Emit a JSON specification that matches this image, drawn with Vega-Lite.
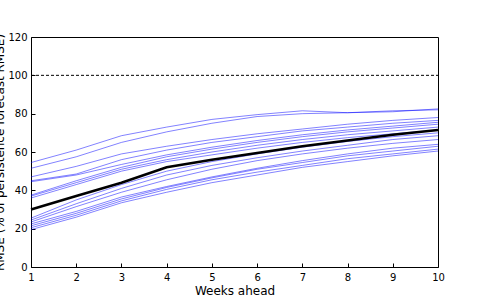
{
  "$schema": "https://vega.github.io/schema/vega-lite/v6.json",
  "width": 407,
  "height": 230,
  "autosize": "none",
  "padding": {"left": 31, "top": 37, "right": 53, "bottom": 39},
  "background": "white",
  "config": {
    "view": {"stroke": "black", "strokeWidth": 1},
    "font": "DejaVu Sans",
    "axis": {
      "grid": false,
      "domain": false,
      "tickColor": "black",
      "tickSize": -4,
      "labelColor": "black",
      "labelFontSize": 10,
      "labelFont": "DejaVu Sans",
      "titleFont": "DejaVu Sans",
      "titleFontSize": 12,
      "titleFontWeight": "normal",
      "titleColor": "black"
    }
  },
  "datasets": {
    "runs": [
      {"series": "L1", "week": 1, "value": 54.5}, {"series": "L1", "week": 2, "value": 61}, {"series": "L1", "week": 3, "value": 68.5}, {"series": "L1", "week": 4, "value": 73}, {"series": "L1", "week": 5, "value": 77}, {"series": "L1", "week": 6, "value": 79.5}, {"series": "L1", "week": 7, "value": 81.5}, {"series": "L1", "week": 8, "value": 80.5}, {"series": "L1", "week": 9, "value": 81}, {"series": "L1", "week": 10, "value": 82.5},
      {"series": "L2", "week": 1, "value": 51.5}, {"series": "L2", "week": 2, "value": 57.5}, {"series": "L2", "week": 3, "value": 65}, {"series": "L2", "week": 4, "value": 70.5}, {"series": "L2", "week": 5, "value": 75}, {"series": "L2", "week": 6, "value": 78.5}, {"series": "L2", "week": 7, "value": 80}, {"series": "L2", "week": 8, "value": 80.5}, {"series": "L2", "week": 9, "value": 81.5}, {"series": "L2", "week": 10, "value": 82},
      {"series": "L3", "week": 1, "value": 47}, {"series": "L3", "week": 2, "value": 52.5}, {"series": "L3", "week": 3, "value": 59}, {"series": "L3", "week": 4, "value": 63}, {"series": "L3", "week": 5, "value": 66.5}, {"series": "L3", "week": 6, "value": 69.5}, {"series": "L3", "week": 7, "value": 72}, {"series": "L3", "week": 8, "value": 74.5}, {"series": "L3", "week": 9, "value": 76.5}, {"series": "L3", "week": 10, "value": 78},
      {"series": "L4", "week": 1, "value": 45}, {"series": "L4", "week": 2, "value": 48.5}, {"series": "L4", "week": 3, "value": 56}, {"series": "L4", "week": 4, "value": 61}, {"series": "L4", "week": 5, "value": 65}, {"series": "L4", "week": 6, "value": 68}, {"series": "L4", "week": 7, "value": 71}, {"series": "L4", "week": 8, "value": 73}, {"series": "L4", "week": 9, "value": 75}, {"series": "L4", "week": 10, "value": 76.5},
      {"series": "L5", "week": 1, "value": 44.5}, {"series": "L5", "week": 2, "value": 48}, {"series": "L5", "week": 3, "value": 53.5}, {"series": "L5", "week": 4, "value": 58.5}, {"series": "L5", "week": 5, "value": 62.5}, {"series": "L5", "week": 6, "value": 66}, {"series": "L5", "week": 7, "value": 69}, {"series": "L5", "week": 8, "value": 71.5}, {"series": "L5", "week": 9, "value": 73.5}, {"series": "L5", "week": 10, "value": 75.5},
      {"series": "L6", "week": 1, "value": 37.5}, {"series": "L6", "week": 2, "value": 45}, {"series": "L6", "week": 3, "value": 52}, {"series": "L6", "week": 4, "value": 57.5}, {"series": "L6", "week": 5, "value": 61.5}, {"series": "L6", "week": 6, "value": 65}, {"series": "L6", "week": 7, "value": 68}, {"series": "L6", "week": 8, "value": 70.5}, {"series": "L6", "week": 9, "value": 72.5}, {"series": "L6", "week": 10, "value": 74.5},
      {"series": "L7", "week": 1, "value": 37}, {"series": "L7", "week": 2, "value": 44}, {"series": "L7", "week": 3, "value": 51}, {"series": "L7", "week": 4, "value": 56}, {"series": "L7", "week": 5, "value": 60}, {"series": "L7", "week": 6, "value": 63.5}, {"series": "L7", "week": 7, "value": 66.5}, {"series": "L7", "week": 8, "value": 69}, {"series": "L7", "week": 9, "value": 71}, {"series": "L7", "week": 10, "value": 73},
      {"series": "L8", "week": 1, "value": 36}, {"series": "L8", "week": 2, "value": 43}, {"series": "L8", "week": 3, "value": 50}, {"series": "L8", "week": 4, "value": 55}, {"series": "L8", "week": 5, "value": 58.5}, {"series": "L8", "week": 6, "value": 62}, {"series": "L8", "week": 7, "value": 65}, {"series": "L8", "week": 8, "value": 67.5}, {"series": "L8", "week": 9, "value": 69.5}, {"series": "L8", "week": 10, "value": 71.5},
      {"series": "L9", "week": 1, "value": 25.5}, {"series": "L9", "week": 2, "value": 35}, {"series": "L9", "week": 3, "value": 43}, {"series": "L9", "week": 4, "value": 50}, {"series": "L9", "week": 5, "value": 55}, {"series": "L9", "week": 6, "value": 59}, {"series": "L9", "week": 7, "value": 62.5}, {"series": "L9", "week": 8, "value": 65.5}, {"series": "L9", "week": 9, "value": 68}, {"series": "L9", "week": 10, "value": 70},
      {"series": "L10", "week": 1, "value": 24.5}, {"series": "L10", "week": 2, "value": 33}, {"series": "L10", "week": 3, "value": 41}, {"series": "L10", "week": 4, "value": 48}, {"series": "L10", "week": 5, "value": 53}, {"series": "L10", "week": 6, "value": 57}, {"series": "L10", "week": 7, "value": 60.5}, {"series": "L10", "week": 8, "value": 63.5}, {"series": "L10", "week": 9, "value": 66.5}, {"series": "L10", "week": 10, "value": 68.5},
      {"series": "L11", "week": 1, "value": 23.5}, {"series": "L11", "week": 2, "value": 31.5}, {"series": "L11", "week": 3, "value": 39}, {"series": "L11", "week": 4, "value": 45.5}, {"series": "L11", "week": 5, "value": 51}, {"series": "L11", "week": 6, "value": 55.5}, {"series": "L11", "week": 7, "value": 59}, {"series": "L11", "week": 8, "value": 62}, {"series": "L11", "week": 9, "value": 64.5}, {"series": "L11", "week": 10, "value": 66.5},
      {"series": "L12", "week": 1, "value": 22.5}, {"series": "L12", "week": 2, "value": 29}, {"series": "L12", "week": 3, "value": 36.5}, {"series": "L12", "week": 4, "value": 42}, {"series": "L12", "week": 5, "value": 47}, {"series": "L12", "week": 6, "value": 51.5}, {"series": "L12", "week": 7, "value": 55.5}, {"series": "L12", "week": 8, "value": 59}, {"series": "L12", "week": 9, "value": 62}, {"series": "L12", "week": 10, "value": 64},
      {"series": "L13", "week": 1, "value": 21.5}, {"series": "L13", "week": 2, "value": 28}, {"series": "L13", "week": 3, "value": 35.5}, {"series": "L13", "week": 4, "value": 41.5}, {"series": "L13", "week": 5, "value": 46.5}, {"series": "L13", "week": 6, "value": 51}, {"series": "L13", "week": 7, "value": 54.5}, {"series": "L13", "week": 8, "value": 58}, {"series": "L13", "week": 9, "value": 60.5}, {"series": "L13", "week": 10, "value": 63},
      {"series": "L14", "week": 1, "value": 20.5}, {"series": "L14", "week": 2, "value": 27}, {"series": "L14", "week": 3, "value": 34.5}, {"series": "L14", "week": 4, "value": 40.5}, {"series": "L14", "week": 5, "value": 45.5}, {"series": "L14", "week": 6, "value": 49.5}, {"series": "L14", "week": 7, "value": 53}, {"series": "L14", "week": 8, "value": 56.5}, {"series": "L14", "week": 9, "value": 59}, {"series": "L14", "week": 10, "value": 61.5},
      {"series": "L15", "week": 1, "value": 19.5}, {"series": "L15", "week": 2, "value": 26}, {"series": "L15", "week": 3, "value": 33.5}, {"series": "L15", "week": 4, "value": 39}, {"series": "L15", "week": 5, "value": 44}, {"series": "L15", "week": 6, "value": 48}, {"series": "L15", "week": 7, "value": 52}, {"series": "L15", "week": 8, "value": 55}, {"series": "L15", "week": 9, "value": 58}, {"series": "L15", "week": 10, "value": 60.5}
    ],
    "mean": [
      {"week": 1, "value": 30}, {"week": 2, "value": 37}, {"week": 3, "value": 44}, {"week": 4, "value": 52}, {"week": 5, "value": 56}, {"week": 6, "value": 59.5}, {"week": 7, "value": 63}, {"week": 8, "value": 66}, {"week": 9, "value": 69}, {"week": 10, "value": 71.5}
    ],
    "ref": [{"value": 100}]
  },
  "encoding": {
    "x": {
      "field": "week", "type": "quantitative",
      "scale": {"domain": [1, 10], "nice": false, "zero": false},
      "axis": {"values": [1, 2, 3, 4, 5, 6, 7, 8, 9, 10], "title": "Weeks ahead", "labelPadding": 9, "titleY": 27, "titleBaseline": "alphabetic", "labelFlush": false}
    },
    "y": {
      "field": "value", "type": "quantitative",
      "scale": {"domain": [0, 120], "nice": false},
      "axis": {"values": [0, 20, 40, 60, 80, 100, 120], "title": "RMSE (% of persistence forecast RMSE)", "labelPadding": 8, "titleX": -28, "titleY": 115, "titleBaseline": "alphabetic", "titleAngle": 270}
    }
  },
  "layer": [
    {
      "data": {"name": "runs"},
      "mark": {"type": "line", "color": "#0000ff", "opacity": 0.55, "strokeWidth": 0.9},
      "encoding": {"detail": {"field": "series"}}
    },
    {
      "data": {"name": "mean"},
      "mark": {"type": "line", "color": "black", "strokeWidth": 2.6}
    },
    {
      "data": {"name": "ref"},
      "mark": {"type": "rule", "color": "black", "strokeWidth": 1, "strokeDash": [3, 2]},
      "encoding": {"y": {"field": "value", "type": "quantitative"}, "x": {"value": 0}, "x2": {"value": 407}}
    }
  ]
}
